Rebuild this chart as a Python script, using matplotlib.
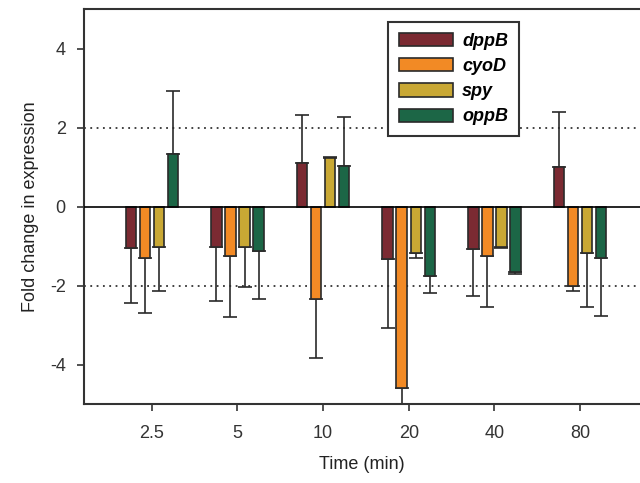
import matplotlib
matplotlib.use('Agg')
import matplotlib.pyplot as plt
import numpy as np

plt.rcParams['font.family'] = ['Liberation Sans', 'DejaVu Sans']
plt.rcParams['axes.unicode_minus'] = False

# data
times = ['2.5', '5', '10', '20', '40', '80']
genes = ['dppB', 'cyoD', 'spy', 'oppB']
dppB = [-1.06, -1.03, 1.11, -1.32, -1.07, 1.00]
cyoD = [-1.29, -1.26, -2.35, -4.60, -1.26, -2.02]
spy = [-1.03, -1.03, 1.24, -1.17, -1.03, -1.17]
oppB = [1.34, -1.13, 1.02, -1.75, -1.66, -1.31]
# one-sided error (away from zero)
dppB_err = [1.37, 1.35, 1.22, 1.76, 1.20, 1.39]
cyoD_err = [1.41, 1.54, 1.48, 0.60, 1.29, 0.13]
spy_err = [1.12, 1.01, 0.02, 0.12, 0.02, 1.38]
oppB_err = [1.60, 1.21, 1.26, 0.43, 0.06, 1.45]

colors = ['#7b2a32', '#f28a25', '#c9a834', '#1c6646']

values = [dppB, cyoD, spy, oppB]
errors = [dppB_err, cyoD_err, spy_err, oppB_err]

fig = plt.figure(figsize=(6.4, 4.83), dpi=100)
ax = fig.add_axes([0.131, 0.1636, 0.869, 0.8174])

x = np.arange(len(times))
width = 0.123
step = 0.164
for i, (g, v, e, c) in enumerate(zip(genes, values, errors, colors)):
    v = np.array(v)
    e = np.array(e)
    pos = x + (i - 1.5) * step
    lower = np.where(v < 0, e, 0)
    upper = np.where(v >= 0, e, 0)
    ax.bar(pos, v, width, color=c, edgecolor='#2a2a2a', linewidth=1.2, label=g, zorder=3)
    ax.errorbar(pos, v, yerr=[lower, upper], fmt='none', ecolor='#2a2a2a',
                elinewidth=1.2, capsize=5, capthick=1.2, zorder=2)

ax.axhline(0, color='black', linewidth=1.2, zorder=4)
ax.axhline(2, color='#333333', linestyle=(0, (1, 2.5)), linewidth=1.3, zorder=1)
ax.axhline(-2, color='#333333', linestyle=(0, (1, 2.5)), linewidth=1.3, zorder=1)

ax.set_xlim(-0.794, 5.70)
ax.set_ylim(-5, 5)
ax.set_xticks(x)
ax.set_xticklabels(times)
ax.set_yticks([-4, -2, 0, 2, 4])
ax.tick_params(axis='both', direction='out', length=5, width=1.2, labelsize=13,
               colors='#333333', labelcolor='#333333')
ax.tick_params(axis='x', pad=10)
ax.tick_params(axis='y', pad=8)
ax.set_xlabel('Time (min)', fontsize=13, color='#222222', labelpad=10)
ax.set_ylabel('Fold change in expression', fontsize=13, color='#222222', labelpad=8)

for s in ['left', 'bottom', 'top']:
    ax.spines[s].set_linewidth(1.5)
    ax.spines[s].set_color('#333333')
ax.spines['right'].set_visible(False)

leg = ax.legend(loc='upper left', bbox_to_anchor=(0.547, 0.967), borderaxespad=0,
                fancybox=False, framealpha=1, edgecolor='#333333',
                handlelength=3.0, handleheight=0.75,
                borderpad=0.6, labelspacing=0.45, handletextpad=0.5,
                prop={'style': 'italic', 'weight': 'bold', 'size': 13})
leg.get_frame().set_linewidth(1.5)

fig.savefig('out.png', dpi=100)
